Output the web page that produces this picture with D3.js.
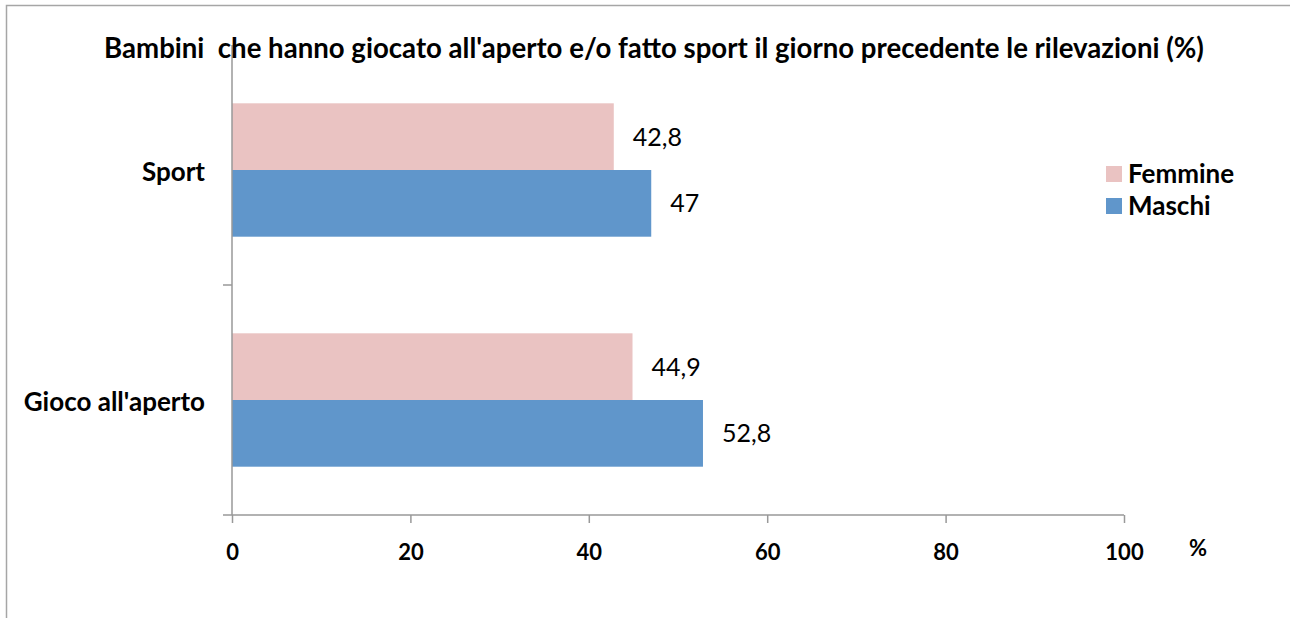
<!DOCTYPE html>
<meta charset="utf-8">
<script src="https://d3js.org/d3.v7.min.js"></script>
<style>
  body { margin: 0; background: #fff; }
  text { font-family: Lato, "Open Sans", sans-serif; fill: #000; }
</style>
<div id="chart"></div>
<script>

// data
var categories = ["Sport", "Gioco all'aperto"];
var series = ["Femmine", "Maschi"];
var femmine = [42.8, 44.9];
var maschi = [47, 52.8];
var xTicks = [0, 20, 40, 60, 80, 100];
var title = "Bambini  che hanno giocato all'aperto e/o fatto sport il giorno precedente le rilevazioni (%)";

var width = 1290,
  height = 618,
  plotLeft = 232,
  plotRight = 1124,
  plotTop = 55,
  plotBottom = 515,
  axisColor = "#999999",
  colors = {"Femmine": "#EAC3C2", "Maschi": "#6096CB"};

var svg = d3.select("#chart")
  .append("svg")
    .attr("width", width)
    .attr("height", height);

// chart frame
svg.append("rect")
  .attr("x", 6.5).attr("y", 5.5)
  .attr("width", width + 20).attr("height", height + 20)
  .style("fill", "none")
  .style("stroke", "#a6a6a6")
  .style("stroke-width", 1.5);

var x = d3.scaleLinear().domain([0, 100]).range([plotLeft, plotRight]);

var y = d3.scaleBand()
  .domain(categories)
  .range([plotTop, plotBottom])
  .paddingInner(0.42)
  .paddingOuter(0.21);

var ySub = d3.scaleBand()
  .domain(series)
  .range([0, y.bandwidth()]);

var rows = categories.map(function(c, i) {
  return {cat: c, values: [
    {s: "Femmine", v: femmine[i]},
    {s: "Maschi", v: maschi[i]}
  ]};
});

// bars
var groups = svg.selectAll("g.row")
  .data(rows)
  .enter()
  .append("g")
    .attr("class", "row")
    .attr("transform", function(d){ return "translate(0," + y(d.cat) + ")"; });

groups.selectAll("rect")
  .data(function(d){ return d.values; })
  .enter()
  .append("rect")
    .attr("x", x(0))
    .attr("y", function(d){ return ySub(d.s); })
    .attr("width", function(d){ return x(d.v) - x(0); })
    .attr("height", ySub.bandwidth())
    .style("fill", function(d){ return colors[d.s]; });

groups.selectAll("text.val")
  .data(function(d){ return d.values; })
  .enter()
  .append("text")
    .attr("class", "val")
    .attr("x", function(d){ return x(d.v) + 19; })
    .attr("y", function(d){ return ySub(d.s) + ySub.bandwidth() / 2; })
    .attr("dy", "0.36em")
    .style("font-size", "25px")
    .text(function(d){ return String(d.v).replace(".", ","); });

// x axis
var xAxis = svg.append("g")
  .attr("transform", "translate(0," + plotBottom + ")")
  .call(d3.axisBottom(x).tickValues(xTicks).tickSize(8).tickSizeOuter(8).tickPadding(21));

xAxis.select(".domain").remove();
xAxis.append("line")
  .attr("x1", plotLeft - 9).attr("x2", plotRight)
  .style("stroke", axisColor).style("stroke-width", 1.5);
xAxis.selectAll(".tick line").style("stroke", axisColor).style("stroke-width", 1.5);
xAxis.selectAll(".tick text")
  .style("font-family", "Lato, sans-serif")
  .style("font-size", "22px")
  .style("font-weight", "bold")
  .style("fill", "#000");

svg.append("text")
  .attr("x", 1198).attr("y", 556)
  .attr("text-anchor", "middle")
  .style("font-size", "22px").style("font-weight", "bold")
  .text("%");

// y axis with ticks between categories
svg.append("line")
  .attr("x1", plotLeft).attr("x2", plotLeft)
  .attr("y1", 45).attr("y2", plotBottom)
  .style("stroke", axisColor).style("stroke-width", 1.5);

var bounds = categories.slice(1).map(function(c){ return y(c) - y.step() * y.paddingInner() / 2; });
svg.selectAll("line.ytick")
  .data(bounds)
  .enter()
  .append("line")
    .attr("class", "ytick")
    .attr("x1", plotLeft - 9).attr("x2", plotLeft)
    .attr("y1", function(d){ return d; })
    .attr("y2", function(d){ return d; })
    .style("stroke", axisColor).style("stroke-width", 1.5);

svg.selectAll("text.cat")
  .data(categories)
  .enter()
  .append("text")
    .attr("class", "cat")
    .attr("x", 205)
    .attr("y", function(d){ return y(d) + y.bandwidth() / 2 + 2; })
    .attr("dy", "0.36em")
    .attr("text-anchor", "end")
    .style("font-size", "26px")
    .style("font-weight", "bold")
    .text(function(d){ return d; });

// title
svg.append("text")
  .attr("x", 654).attr("y", 58)
  .attr("text-anchor", "middle")
  .style("white-space", "pre")
  .style("font-size", "27.6px")
  .style("font-weight", "bold")
  .text(title);

// legend
var legend = svg.selectAll("g.legend")
  .data(series)
  .enter()
  .append("g")
    .attr("class", "legend")
    .attr("transform", function(d, i){ return "translate(1106," + (166 + i * 32) + ")"; });

legend.append("rect")
  .attr("width", 16).attr("height", 16)
  .style("fill", function(d){ return colors[d]; });

legend.append("text")
  .attr("x", 22).attr("y", 8)
  .attr("dy", "0.36em")
  .style("font-size", "26px")
  .style("font-weight", "bold")
  .text(function(d){ return d; });

</script>
